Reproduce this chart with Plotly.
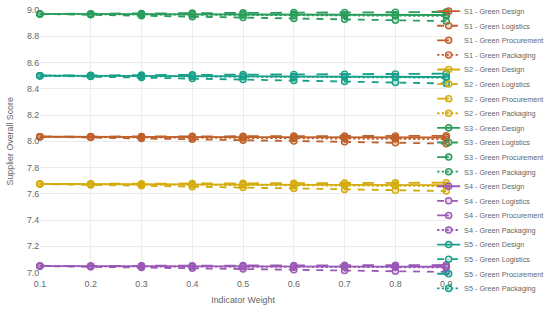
import plotly.graph_objects as go

weights = [0.1, 0.2, 0.3, 0.4, 0.5, 0.6, 0.7, 0.8, 0.9]
suppliers = ["S1", "S2", "S3", "S4", "S5"]
indicators = ["Green Design", "Green Logistics", "Green Procurement", "Green Packaging"]

# scores per supplier, one list per indicator (same order as indicators)
s1 = [
    [8.035, 8.034, 8.033, 8.032, 8.031, 8.031, 8.030, 8.029, 8.029],
    [8.035, 8.029, 8.022, 8.016, 8.009, 8.002, 7.996, 7.989, 7.982],
    [8.035, 8.036, 8.037, 8.038, 8.039, 8.040, 8.041, 8.041, 8.042],
    [8.035, 8.033, 8.030, 8.028, 8.025, 8.023, 8.021, 8.018, 8.016],
]
s2 = [
    [7.675, 7.674, 7.672, 7.671, 7.670, 7.669, 7.668, 7.667, 7.666],
    [7.675, 7.668, 7.661, 7.654, 7.648, 7.641, 7.634, 7.627, 7.621],
    [7.675, 7.676, 7.677, 7.679, 7.680, 7.681, 7.682, 7.684, 7.685],
    [7.675, 7.673, 7.671, 7.669, 7.667, 7.665, 7.663, 7.661, 7.659],
]
s3 = [
    [8.970, 8.969, 8.968, 8.967, 8.966, 8.965, 8.964, 8.963, 8.962],
    [8.970, 8.963, 8.956, 8.949, 8.942, 8.936, 8.929, 8.922, 8.915],
    [8.970, 8.972, 8.974, 8.976, 8.978, 8.980, 8.981, 8.983, 8.985],
    [8.970, 8.968, 8.966, 8.964, 8.962, 8.961, 8.959, 8.957, 8.955],
]
s4 = [
    [7.050, 7.050, 7.049, 7.048, 7.048, 7.047, 7.046, 7.046, 7.045],
    [7.050, 7.044, 7.039, 7.033, 7.028, 7.022, 7.016, 7.011, 7.005],
    [7.050, 7.051, 7.052, 7.053, 7.054, 7.055, 7.056, 7.057, 7.058],
    [7.050, 7.049, 7.048, 7.046, 7.045, 7.044, 7.043, 7.041, 7.040],
]
s5 = [
    [8.500, 8.499, 8.497, 8.496, 8.495, 8.494, 8.492, 8.491, 8.490],
    [8.500, 8.493, 8.485, 8.478, 8.470, 8.463, 8.455, 8.448, 8.440],
    [8.500, 8.502, 8.504, 8.506, 8.508, 8.509, 8.511, 8.513, 8.515],
    [8.500, 8.498, 8.496, 8.494, 8.492, 8.491, 8.489, 8.487, 8.485],
]
scores = [s1, s2, s3, s4, s5]

colors = ["#c0612b", "#d4ac0d", "#2a9d5c", "#9b59b6", "#17a08a"]
light = ["rgba(192,97,43,0.25)", "rgba(212,172,13,0.25)", "rgba(42,157,92,0.25)",
         "rgba(155,89,182,0.25)", "rgba(23,160,138,0.25)"]
dashes = ["solid", "dash", "longdash", "dot"]

# plotly caps one legend's height, so the 20 entries are split into 3 stacked legends
legend_of = ["legend", "legend", "legend2", "legend2", "legend3"]

fig = go.Figure()
for si, sup in enumerate(suppliers):
    for ii, ind in enumerate(indicators):
        fig.add_trace(go.Scatter(
            x=weights, y=scores[si][ii],
            mode="lines+markers",
            name=f"{sup} - {ind}",
            legend=legend_of[si],
            line=dict(color=colors[si], width=2.4, dash=dashes[ii]),
            marker=dict(size=8, color=light[si], line=dict(color=colors[si], width=1.8)),
            cliponaxis=False,
        ))

leg = dict(xref="container", yref="container", x=0.788,
           xanchor="left", yanchor="top", itemwidth=30,
           font=dict(size=9.5, color="#666"), bgcolor="rgba(255,255,255,0)")

# the page is drawn at 716x402 and shrunk by 0.768 to 550x309
fig.update_layout(
    width=716, height=402,
    margin=dict(l=52, r=135, t=13, b=47, autoexpand=False),
    paper_bgcolor="white", plot_bgcolor="white",
    font=dict(family="Liberation Sans, Arial, sans-serif", size=12, color="#666"),
    xaxis=dict(title=dict(text="Indicator Weight", font=dict(size=11.5), standoff=11),
               range=[0.1, 0.9], dtick=0.1, tickformat=".1f", tickfont=dict(size=11.5),
               ticklabelstandoff=6,
               gridcolor="#e6e6e6", zeroline=False, showline=False),
    yaxis=dict(title=dict(text="Supplier Overall Score", font=dict(size=11.5), standoff=14),
               range=[7.0, 9.0], dtick=0.2, tickformat=".1f", tickfont=dict(size=11.5),
               gridcolor="#e6e6e6", zeroline=False, showline=False),
    legend=dict(leg, y=1.0),
    legend2=dict(leg, y=1.0 - 152 / 402),
    legend3=dict(leg, y=1.0 - 304 / 402),
    showlegend=True,
)

scale_js = (
    "var gd=document.getElementById('{plot_id}');"
    "document.body.style.margin='0';"
    "gd.style.transformOrigin='0 0';"
    "gd.style.transform='scale(0.768)';"
)
fig.write_html("out.html", config={"displayModeBar": False}, post_script=scale_js)
